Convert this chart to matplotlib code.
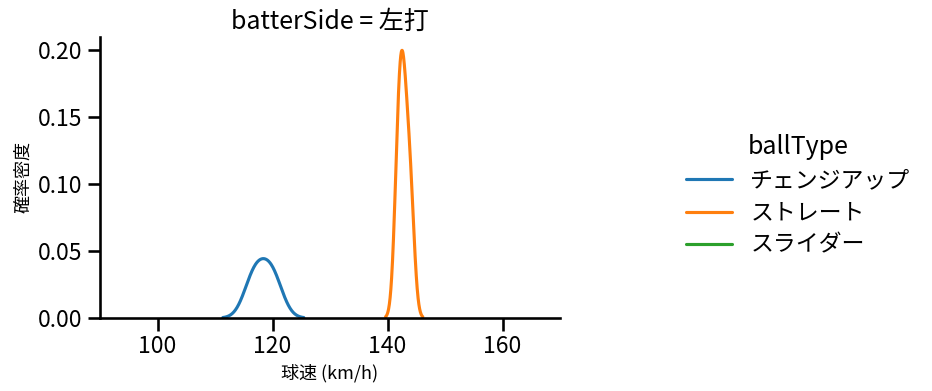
import pandas as pd
import matplotlib
matplotlib.use('Agg')
import matplotlib.pyplot as plt
import seaborn as sns

# 投球データ（画像から推定）
ball_types = ['チェンジアップ', 'チェンジアップ',
              'ストレート', 'ストレート', 'ストレート', 'ストレート',
              'スライダー']
speeds = [116.9, 119.9,
          141.8, 142.4, 143.0, 144.0,
          130.0]
batter_side = ['左打'] * len(speeds)
hue_order = ['チェンジアップ', 'ストレート', 'スライダー']

df = pd.DataFrame({'batterSide': batter_side, 'ballType': ball_types, '球速': speeds})

sns.set_theme(context='talk', style='ticks', palette='tab10',
              rc={'axes.edgecolor': 'black', 'xtick.color': 'black',
                  'ytick.color': 'black', 'text.color': 'black',
                  'axes.labelcolor': 'black'})
plt.rcParams['font.family'] = ['Noto Sans CJK JP', 'DejaVu Sans']

fig = plt.figure(figsize=(9.32, 3.91), dpi=100)
ax = fig.add_axes([0.1073, 0.1867, 0.4936, 0.7187])

sns.kdeplot(data=df, x='球速', hue='ballType', hue_order=hue_order,
            palette='tab10', ax=ax, warn_singular=False)

ax.set_xlim(90, 170)
ax.set_xticks([100, 120, 140, 160])
ax.set_yticks([0.0, 0.05, 0.10, 0.15, 0.20])
ax.set_title('batterSide = 左打', fontsize=18)
ax.set_xlabel('球速 (km/h)', fontsize=13)
ax.set_ylabel('確率密度', fontsize=13)
sns.despine(ax=ax)

sns.move_legend(ax, 'center left', bbox_to_anchor=(0.714, 0.5),
                bbox_transform=fig.transFigure, frameon=False,
                title='ballType', labelspacing=0.4)

fig.savefig('out.png', dpi=100)
